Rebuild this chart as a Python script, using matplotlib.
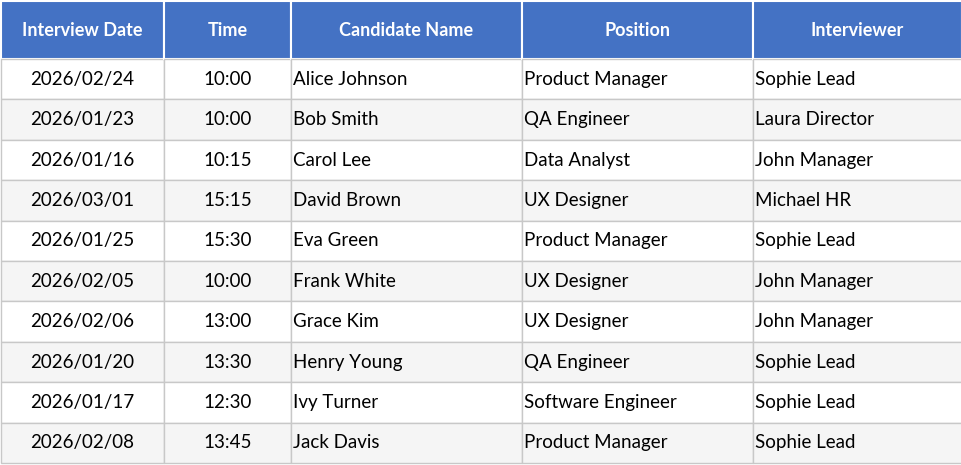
import matplotlib
matplotlib.use("Agg")
import matplotlib.pyplot as plt
from matplotlib.patches import Rectangle

headers = ["Interview Date", "Time", "Candidate Name", "Position", "Interviewer"]
dates = ["2026/02/24","2026/01/23","2026/01/16","2026/03/01","2026/01/25","2026/02/05","2026/02/06","2026/01/20","2026/01/17","2026/02/08"]
times = ["10:00","10:00","10:15","15:15","15:30","10:00","13:00","13:30","12:30","13:45"]
names = ["Alice Johnson","Bob Smith","Carol Lee","David Brown","Eva Green","Frank White","Grace Kim","Henry Young","Ivy Turner","Jack Davis"]
positions = ["Product Manager","QA Engineer","Data Analyst","UX Designer","Product Manager","UX Designer","UX Designer","QA Engineer","Software Engineer","Product Manager"]
interviewers = ["Sophie Lead","Laura Director","John Manager","Michael HR","Sophie Lead","John Manager","John Manager","Sophie Lead","Sophie Lead","Sophie Lead"]

cols = [dates, times, names, positions, interviewers]
col_w = [163, 127, 231, 231, 209]
align = ["center", "center", "left", "left", "left"]
W, H = 962, 465
head_h = 58
row_h = 40.4

fig = plt.figure(figsize=(W/100, H/100), dpi=100)
ax = fig.add_axes([0, 0, 1, 1])
ax.set_xlim(0, W); ax.set_ylim(H, 0); ax.axis("off")
font = "Lato"
x = 1
for ci, w in enumerate(col_w):
    ax.add_patch(Rectangle((x, 1), w, head_h, facecolor="#4472C4", edgecolor="white", lw=1.5))
    ax.text(x + w/2, 1 + head_h/2, headers[ci], ha="center", va="center", color="white",
            fontsize=13, fontweight="bold", family=font)
    for ri, val in enumerate(cols[ci]):
        y = 1 + head_h + ri*row_h
        fc = "white" if ri % 2 == 0 else "#F5F5F5"
        ax.add_patch(Rectangle((x, y), w, row_h, facecolor=fc, edgecolor="#C8C8C8", lw=1))
        tx = x + w/2 if align[ci] == "center" else x + 2
        ax.text(tx, y + row_h/2, val, ha=align[ci], va="center", color="black",
                fontsize=13.5, family=font)
    x += w
fig.savefig("out.png", dpi=100)
